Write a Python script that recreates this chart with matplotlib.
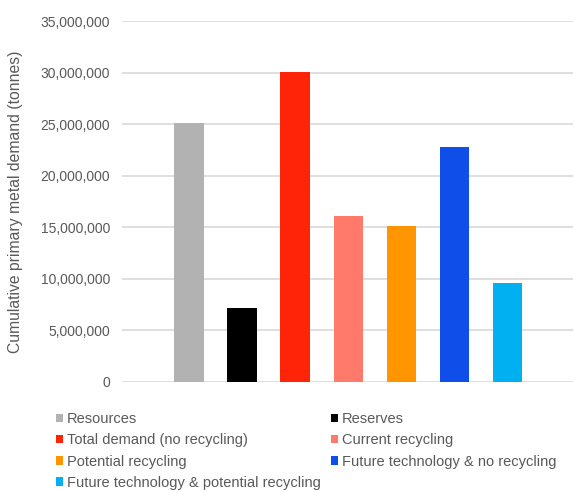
import matplotlib.pyplot as plt
from matplotlib.ticker import FuncFormatter

# Données
categories = [
    "Resources",
    "Reserves",
    "Total demand (no recycling)",
    "Current recycling",
    "Potential recycling",
    "Future technology & no recycling",
    "Future technology & potential recycling",
]
values = [25100000, 7150000, 30100000, 16100000, 15100000, 22800000, 9600000]
colors = ["#b2b2b2", "#000000", "#ff2308", "#ff7a6a", "#ff9500", "#0f4ee8", "#00b0f0"]
y_ticks = [0, 5000000, 10000000, 15000000, 20000000, 25000000, 30000000, 35000000]

plt.rcParams['font.family'] = ['Liberation Sans', 'DejaVu Sans']
text_color = "#595959"

fig = plt.figure(figsize=(5.74, 4.91), dpi=100)
ax = fig.add_axes([0.2125, 0.222, 0.786, 0.735])

bars = []
for i, (cat, val, col) in enumerate(zip(categories, values, colors)):
    b = ax.bar(i, val, width=0.56, color=col, label=cat, zorder=3)
    bars.append(b)

ax.set_xlim(-1.27, 7.24)
ax.set_ylim(0, 35000000)
ax.set_yticks(y_ticks)
ax.yaxis.set_major_formatter(FuncFormatter(lambda v, p: f"{int(v):,}"))
ax.set_xticks([])
ax.grid(axis='y', color="#d9d9d9", linewidth=1.2, zorder=0)
for s in ax.spines.values():
    s.set_visible(False)
ax.tick_params(axis='y', length=0, pad=8.6, labelsize=10, labelcolor=text_color)
ax.set_ylabel("Cumulative primary metal demand (tonnes)", fontsize=11.3,
              color=text_color)
ax.yaxis.set_label_coords(-0.2195, 0.5)

# Légende en deux colonnes, remplie ligne par ligne
order = [0, 2, 4, 6, 1, 3, 5]
fig.legend([bars[i] for i in order], [categories[i] for i in order],
           loc='upper left', bbox_to_anchor=(0.0975, 0.161), ncol=2,
           frameon=False, fontsize=10.5, labelcolor=text_color,
           handlelength=0.5, handleheight=0.5, handletextpad=0.25,
           columnspacing=0.7, labelspacing=0.5, borderpad=0, borderaxespad=0)

fig.savefig("out.png", dpi=100)
